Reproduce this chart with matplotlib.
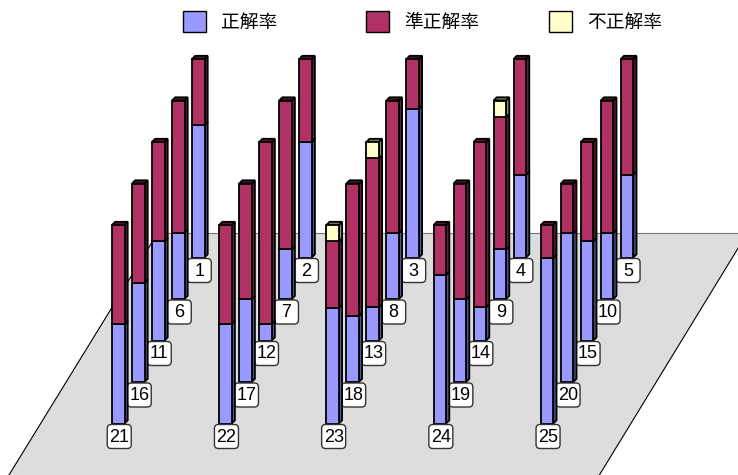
import matplotlib
matplotlib.use("Agg")
import matplotlib.pyplot as plt
from matplotlib.patches import Polygon, Rectangle, FancyBboxPatch
from matplotlib.colors import to_rgb

# ---- data: answer rates (%) for questions 1..25 ----
series_names = ["正解率", "準正解率", "不正解率"]
question_ids = list(range(1, 26))
correct = [66.7, 58.3, 75.0, 41.7, 41.7,
           33.3, 25.0, 33.3, 25.0, 33.3,
           50.0, 8.3, 16.7, 16.7, 50.0,
           50.0, 41.7, 33.3, 41.7, 75.0,
           50.0, 50.0, 58.3, 75.0, 83.3]
partial = [33.3, 41.7, 25.0, 58.3, 58.3,
           66.7, 75.0, 66.7, 66.7, 66.7,
           50.0, 91.7, 75.0, 83.3, 50.0,
           50.0, 58.3, 66.7, 58.3, 25.0,
           50.0, 50.0, 33.4, 25.0, 16.7]
wrong = [0.0, 0.0, 0.0, 0.0, 0.0,
         0.0, 0.0, 0.0, 8.3, 0.0,
         0.0, 0.0, 8.3, 0.0, 0.0,
         0.0, 0.0, 0.0, 0.0, 0.0,
         0.0, 0.0, 8.3, 0.0, 0.0]
series_values = [correct, partial, wrong]
series_colors = ["#9999FF", "#B03264", "#FFFFCC"]

# ---- oblique projection of the 5x5 grid (pixel units) ----
N_COLS = 5
ORIGIN_X, ORIGIN_Y = 192.0, 257.5
COL_DX = 107.2
ROW_DX, ROW_DY = -20.0, 41.5
PX_PER_PCT = 1.985
BAR_W = 12.5
DEPTH = 3.2
LW = 1.3


def to_screen(col, row, val=0.0):
    x = ORIGIN_X + col * COL_DX + row * ROW_DX
    y = ORIGIN_Y + row * ROW_DY - val * PX_PER_PCT
    return x, y


def shade(color, f):
    r, g, b = to_rgb(color)
    return (r * f, g * f, b * f)


fig = plt.figure(figsize=(7.38, 4.75), dpi=100)
ax = fig.add_axes([0, 0, 1, 1])
ax.set_xlim(0, 738)
ax.set_ylim(475, 0)
ax.axis("off")

# ---- floor plane ----
floor_grid = [(-0.43, -0.58), (5.07, -0.58), (4.69, 7.0), (-0.82, 7.0)]
floor_pts = [to_screen(c, r) for c, r in floor_grid]
ax.add_patch(Polygon(floor_pts, closed=True, facecolor="#DDDDDD",
                     edgecolor="none", zorder=0))
ax.plot([floor_pts[0][0], floor_pts[1][0]], [floor_pts[0][1], floor_pts[1][1]],
        color="#777777", lw=0.8, zorder=0.5)
for a, b in [(0, 3), (1, 2)]:
    ax.plot([floor_pts[a][0], floor_pts[b][0]], [floor_pts[a][1], floor_pts[b][1]],
            color="black", lw=0.8, zorder=0.5)


def draw_box(x0, y_bot, y_top, color, z):
    d = DEPTH
    front = [(x0, y_bot), (x0 + BAR_W, y_bot), (x0 + BAR_W, y_top), (x0, y_top)]
    side = [(x0 + BAR_W, y_bot), (x0 + BAR_W + d, y_bot - d),
            (x0 + BAR_W + d, y_top - d), (x0 + BAR_W, y_top)]
    top = [(x0, y_top), (x0 + BAR_W, y_top), (x0 + BAR_W + d, y_top - d),
           (x0 + d, y_top - d)]
    for pts, fc in [(side, shade(color, 0.55)), (top, shade(color, 0.45)),
                    (front, color)]:
        ax.add_patch(Polygon(pts, closed=True, facecolor=fc, edgecolor="black",
                             lw=LW, joinstyle="miter", zorder=z))


# ---- stacked columns, drawn back row first ----
for i, qid in enumerate(question_ids):
    row, col = divmod(i, N_COLS)
    z = 1 + row * 10
    base = 0.0
    for vals, color in zip(series_values, series_colors):
        v = vals[i]
        if v <= 0:
            continue
        x0, yb = to_screen(col, row, base)
        _, yt = to_screen(col, row, base + v)
        draw_box(x0, yb, yt, color, z)
        base += v
    # numbered label under the column
    x0, yb = to_screen(col, row, 0.0)
    cx = x0 + BAR_W / 2 + 1
    ax.add_patch(FancyBboxPatch((cx - 12, yb + 1), 24, 24,
                                boxstyle="round,pad=0,rounding_size=4",
                                facecolor="white", edgecolor="#333333",
                                lw=1.0, zorder=z + 2))
    ax.text(cx, yb + 13.5, str(qid), ha="center", va="center",
            fontsize=13, family="Liberation Sans", color="black", zorder=z + 3)

# ---- legend ----
LEG_X0, LEG_STEP, LEG_Y = 183, 183, 11
for k, (name, color) in enumerate(zip(series_names, series_colors)):
    lx = LEG_X0 + k * LEG_STEP
    ax.add_patch(Rectangle((lx, LEG_Y), 23, 21, facecolor=color,
                           edgecolor="black", lw=1.0, zorder=100))
    ax.text(lx + 38, LEG_Y + 11, name, ha="left", va="center", fontsize=13.5,
            family=["Noto Sans CJK JP", "DejaVu Sans"], color="black",
            zorder=100)

fig.savefig("out.png", dpi=100)
